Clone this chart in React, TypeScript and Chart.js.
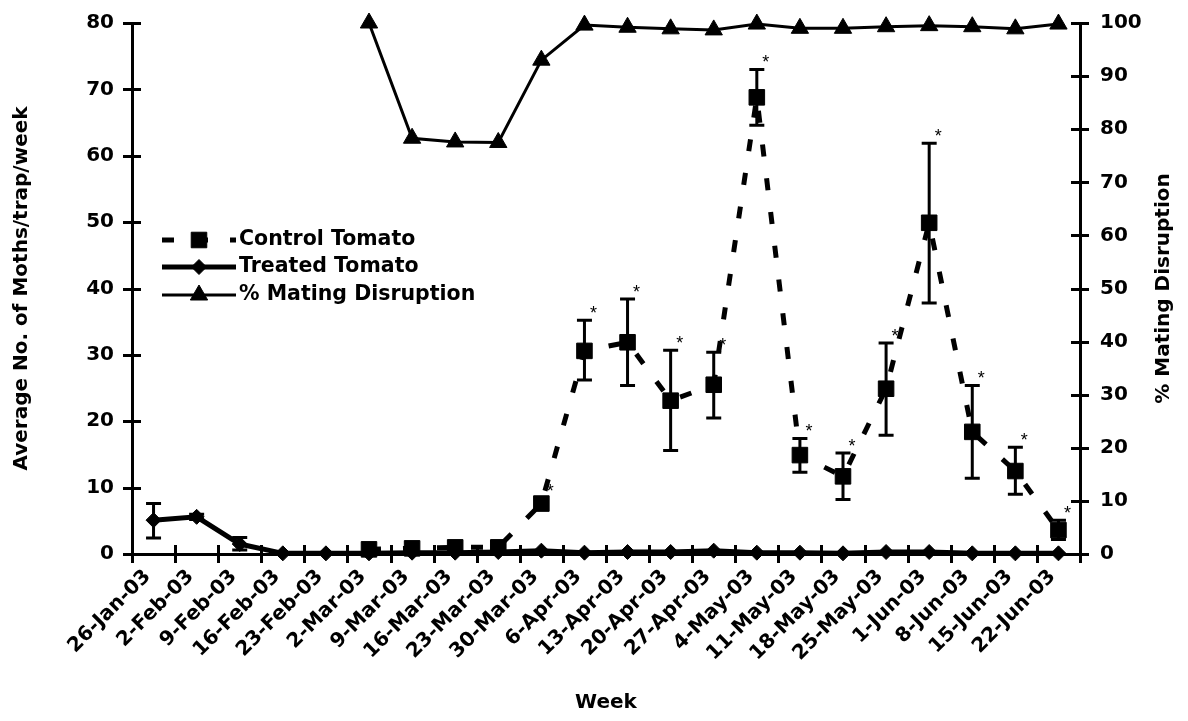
import React, { useEffect, useRef } from "react";
import { Chart, registerables } from "chart.js";
Chart.register(...registerables);

const weeks = ["26-Jan-03","2-Feb-03","9-Feb-03","16-Feb-03","23-Feb-03","2-Mar-03","9-Mar-03","16-Mar-03","23-Mar-03","30-Mar-03","6-Apr-03","13-Apr-03","20-Apr-03","27-Apr-03","4-May-03","11-May-03","18-May-03","25-May-03","1-Jun-03","8-Jun-03","15-Jun-03","22-Jun-03"];

const controlMean = [null,null,null,null,null,0.7,0.85,1.0,1.0,7.6,30.6,31.9,23.1,25.5,68.8,14.9,11.7,24.9,49.9,18.4,12.5,3.6];
const controlLow = [null,null,null,null,null,null,null,null,null,6.9,26.2,25.4,15.6,20.5,64.6,12.3,8.2,17.9,37.8,11.4,9.0,2.2];
const controlHigh = [null,null,null,null,null,null,null,null,null,8.4,35.2,38.4,30.7,30.4,73.0,17.4,15.2,31.8,61.9,25.4,16.1,5.1];
const controlStar = [false,false,false,false,false,false,false,false,false,true,true,true,true,true,true,true,true,true,true,true,true,true];

const treatedMean = [5.1,5.6,1.5,0.1,0.1,0.1,0.2,0.2,0.3,0.5,0.2,0.3,0.3,0.5,0.2,0.2,0.1,0.3,0.3,0.1,0.1,0.1];
const treatedLow = [2.4,5.2,0.6,null,null,null,null,null,null,null,null,null,null,null,null,null,null,null,null,null,null,null];
const treatedHigh = [7.6,6.0,2.5,null,null,null,null,null,null,null,null,null,null,null,null,null,null,null,null,null,null,null];

const matingDisruption = [null,null,null,null,null,100,78.3,77.6,77.5,93.0,99.6,99.2,98.9,98.7,99.8,99.0,99.0,99.3,99.5,99.3,98.9,99.8];

const leftTicks = { min: 0, max: 80, step: 10 };
const rightTicks = { min: 0, max: 100, step: 10 };

const FONT = "'DejaVu Sans', 'Liberation Sans', Arial, sans-serif";

const tickMarksPlugin = {
  id: "tickMarks",
  afterDraw(chart: any) {
    const { ctx, chartArea } = chart;
    const xs = chart.scales.x;
    const ys = chart.scales.y;
    const y1 = chart.scales.y1;
    ctx.save();
    ctx.strokeStyle = "#000";
    ctx.lineWidth = 3;
    ctx.beginPath();
    const step = xs.getPixelForValue(1) - xs.getPixelForValue(0);
    const x0 = xs.getPixelForValue(0) - step / 2;
    for (let k = 0; k <= weeks.length; k++) {
      const px = Math.round(x0 + k * step) + 0.5;
      ctx.moveTo(px, chartArea.bottom - 9);
      ctx.lineTo(px, chartArea.bottom + 9);
    }
    ys.ticks.forEach((t: any) => {
      const py = Math.round(ys.getPixelForValue(t.value)) + 0.5;
      ctx.moveTo(chartArea.left - 9, py);
      ctx.lineTo(chartArea.left + 9, py);
    });
    y1.ticks.forEach((t: any) => {
      const py = Math.round(y1.getPixelForValue(t.value)) + 0.5;
      ctx.moveTo(chartArea.right - 9, py);
      ctx.lineTo(chartArea.right + 9, py);
    });
    ctx.stroke();

    // right axis title (reads bottom to top)
    ctx.fillStyle = "#000";
    ctx.font = `bold 20px ${FONT}`;
    ctx.textAlign = "center";
    ctx.textBaseline = "middle";
    ctx.translate(1164, (chartArea.top + chartArea.bottom) / 2);
    ctx.rotate(-Math.PI / 2);
    ctx.fillText("% Mating Disruption", 0, 0);
    ctx.restore();
  },
};

const errorBarPlugin = {
  id: "errorBars",
  afterDatasetsDraw(chart: any) {
    const { ctx } = chart;
    const xs = chart.scales.x;
    const ys = chart.scales.y;
    ctx.save();
    ctx.strokeStyle = "#000";
    ctx.lineWidth = 3;
    const draw = (lo: (number | null)[], hi: (number | null)[]) => {
      for (let i = 0; i < lo.length; i++) {
        const l = lo[i];
        const h = hi[i];
        if (l == null || h == null) continue;
        const px = xs.getPixelForValue(i);
        const pl = ys.getPixelForValue(l);
        const ph = ys.getPixelForValue(h);
        ctx.beginPath();
        ctx.moveTo(px, pl);
        ctx.lineTo(px, ph);
        ctx.moveTo(px - 7.5, pl);
        ctx.lineTo(px + 7.5, pl);
        ctx.moveTo(px - 7.5, ph);
        ctx.lineTo(px + 7.5, ph);
        ctx.stroke();
      }
    };
    draw(controlLow, controlHigh);
    draw(treatedLow, treatedHigh);

    ctx.fillStyle = "#000";
    ctx.font = `18px 'Liberation Sans', Arial, sans-serif`;
    ctx.textAlign = "center";
    ctx.textBaseline = "middle";
    for (let i = 0; i < controlStar.length; i++) {
      if (!controlStar[i]) continue;
      const top = controlHigh[i] ?? controlMean[i];
      if (top == null) continue;
      const px = xs.getPixelForValue(i);
      const py = ys.getPixelForValue(top);
      ctx.fillText("*", px + 9, py - 6);
    }
    ctx.restore();
  },
};

const legendItems = [
  { label: "Control Tomato", style: "rect", dash: [12, 22], width: 5, radius: 11 },
  { label: "Treated Tomato", style: "rectRot", dash: [], width: 5, radius: 7.5 },
  { label: "% Mating Disruption", style: "triangle", dash: [], width: 3, radius: 10 },
];

function drawMarker(ctx: CanvasRenderingContext2D, style: string, r: number, x: number, y: number) {
  ctx.beginPath();
  if (style === "rect") {
    const s = Math.SQRT1_2 * r;
    ctx.rect(x - s, y - s, 2 * s, 2 * s);
  } else if (style === "rectRot") {
    ctx.moveTo(x - r, y);
    ctx.lineTo(x, y - r);
    ctx.lineTo(x + r, y);
    ctx.lineTo(x, y + r);
    ctx.closePath();
  } else {
    const a = Math.PI / 3;
    ctx.moveTo(x, y - r);
    ctx.lineTo(x + Math.sin(2 * a) * r, y + 0.5 * r);
    ctx.lineTo(x - Math.sin(2 * a) * r, y + 0.5 * r);
    ctx.closePath();
  }
  ctx.fill();
  ctx.stroke();
}

const legendPlugin = {
  id: "customLegend",
  afterDraw(chart: any) {
    const { ctx } = chart;
    ctx.save();
    const x1 = 162;
    const x2 = 236;
    const rows = [240, 267, 295];
    legendItems.forEach((it, i) => {
      const y = rows[i];
      ctx.strokeStyle = "#000";
      ctx.fillStyle = "#000";
      ctx.lineWidth = it.width;
      ctx.setLineDash(it.dash);
      ctx.beginPath();
      ctx.moveTo(x1, y);
      ctx.lineTo(x2, y);
      ctx.stroke();
      ctx.setLineDash([]);
      ctx.lineWidth = 1;
      drawMarker(ctx, it.style, it.radius, (x1 + x2) / 2, y);
      ctx.font = `bold 20.5px ${FONT}`;
      ctx.textAlign = "left";
      ctx.textBaseline = "middle";
      ctx.fillText(it.label, 239, y);
    });
    ctx.restore();
  },
};

export default function App() {
  const ref = useRef<HTMLCanvasElement | null>(null);
  useEffect(() => {
    if (!ref.current) return;
    const chart = new Chart(ref.current, {
      type: "line",
      data: {
        labels: weeks,
        datasets: [
          {
            label: "Control Tomato",
            data: controlMean,
            yAxisID: "y",
            borderColor: "#000",
            backgroundColor: "#000",
            borderWidth: 5,
            borderDash: [12, 22],
            pointStyle: "rect",
            pointRadius: 11,
            pointBorderWidth: 1,
            pointBackgroundColor: "#000",
            pointBorderColor: "#000",
            tension: 0,
            clip: false,
          } as any,
          {
            label: "Treated Tomato",
            data: treatedMean,
            yAxisID: "y",
            borderColor: "#000",
            backgroundColor: "#000",
            borderWidth: 5,
            pointStyle: "rectRot",
            pointRadius: 7.5,
            pointBorderWidth: 1,
            pointBackgroundColor: "#000",
            pointBorderColor: "#000",
            tension: 0,
            clip: false,
          } as any,
          {
            label: "% Mating Disruption",
            data: matingDisruption,
            yAxisID: "y1",
            borderColor: "#000",
            backgroundColor: "#000",
            borderWidth: 3,
            pointStyle: "triangle",
            pointRadius: 10,
            pointBorderWidth: 1,
            pointBackgroundColor: "#000",
            pointBorderColor: "#000",
            tension: 0,
            clip: false,
          } as any,
        ],
      },
      options: {
        animation: false,
        responsive: false,
        devicePixelRatio: 1,
        layout: { padding: { top: 21, left: 0, right: 0, bottom: 0 } },
        plugins: { legend: { display: false }, tooltip: { enabled: false } },
        scales: {
          x: {
            type: "category",
            offset: true,
            grid: { display: true, offset: true, drawOnChartArea: false, drawTicks: true, tickLength: 9, color: "rgba(0,0,0,0)" },
            border: { display: true, color: "#000", width: 3 },
            ticks: {
              color: "#000",
              font: { family: FONT, weight: "bold", size: 20 },
              maxRotation: 45,
              minRotation: 45,
              autoSkip: false,
              padding: 2,
              labelOffset: -6,
            },
            title: {
              display: true,
              text: "Week",
              color: "#000",
              font: { family: FONT, weight: "bold", size: 20 },
              padding: { top: 0, bottom: 6 },
            },
            afterFit: (s: any) => { s.height = 167; },
          },
          y: {
            position: "left",
            min: leftTicks.min,
            max: leftTicks.max,
            grid: { display: true, drawOnChartArea: false, drawTicks: true, tickLength: 9, color: "rgba(0,0,0,0)" },
            border: { display: true, color: "#000", width: 3 },
            ticks: {
              stepSize: leftTicks.step,
              color: "#000",
              font: { family: FONT, weight: "bold", size: 20 },
              padding: 9,
            },
            title: {
              display: true,
              text: "Average No. of Moths/trap/week",
              color: "#000",
              font: { family: FONT, weight: "bold", size: 20 },
              padding: { top: 10, bottom: 0 },
            },
            afterFit: (s: any) => { s.width = 132; },
          },
          y1: {
            position: "right",
            min: rightTicks.min,
            max: rightTicks.max,
            grid: { display: true, drawOnChartArea: false, drawTicks: true, tickLength: 9, color: "rgba(0,0,0,0)" },
            border: { display: true, color: "#000", width: 3 },
            ticks: {
              stepSize: rightTicks.step,
              color: "#000",
              font: { family: FONT, weight: "bold", size: 20 },
              padding: 11,
            },
            afterFit: (s: any) => { s.width = 108; },
          },
        },
      } as any,
      plugins: [errorBarPlugin, tickMarksPlugin, legendPlugin],
    });
    return () => chart.destroy();
  }, []);
  return (
    <div style={{ position: "absolute", left: 0, top: 0, width: 1188, height: 721, background: "#fff" }}>
      <canvas ref={ref} width={1188} height={721} style={{ width: 1188, height: 721, display: "block" }} />
    </div>
  );
}
